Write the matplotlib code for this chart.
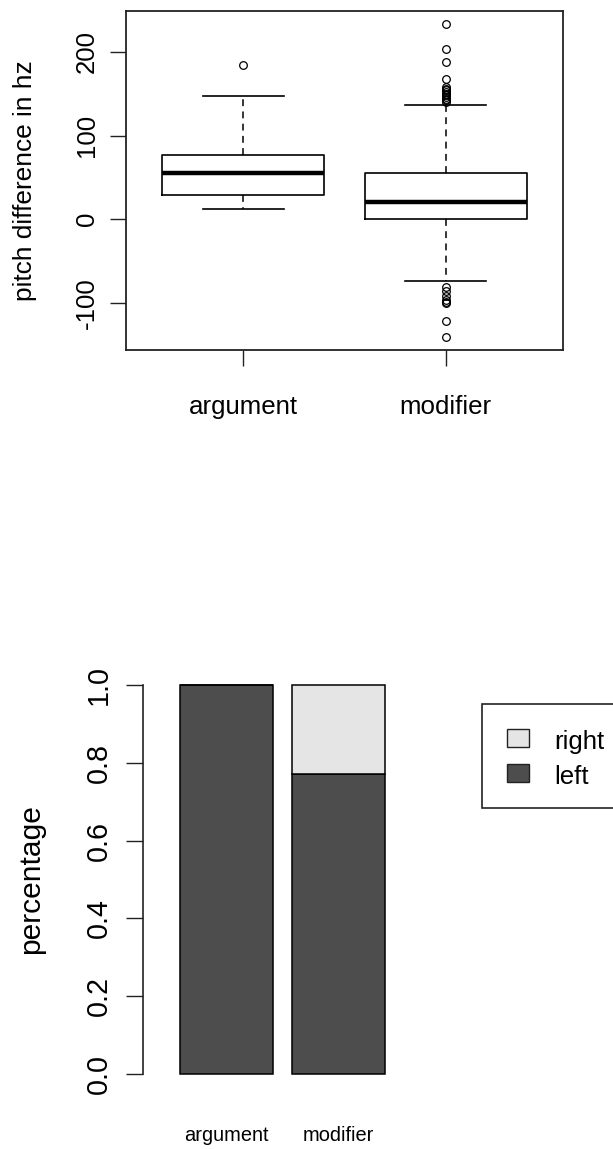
import matplotlib
matplotlib.use("Agg")
import matplotlib.pyplot as plt
from matplotlib.patches import Rectangle

plt.rcParams['font.family'] = ['Liberation Sans', 'DejaVu Sans']

# ---------------- data ----------------
groups = ['argument', 'modifier']
q1 = [29.0, 0.7]
median = [55.0, 21.0]
q3 = [77.0, 55.0]
whisker_low = [12.7, -74.0]
whisker_high = [147.0, 137.0]
outliers_argument = [184.0]
outliers_modifier = [234.0, 204.0, 188.0, 168.0, 158.0, 156.0, 154.0, 152.0,
                     150.0, 148.0, 146.0, 144.0, 142.0, 140.0,
                     -81.0, -86.0, -92.0, -97.0, -99.0, -100.0, -121.5, -141.5]
pitch_ticks = [-100, 0, 100, 200]

side_labels = ['right', 'left']
share_left = [1.0, 0.772]
share_right = [0.0, 0.228]
pct_ticks = [0.0, 0.2, 0.4, 0.6, 0.8, 1.0]

DARK = '#4d4d4d'
LIGHT = '#e5e5e5'

W, H = 613, 1149
fig = plt.figure(figsize=(W / 100, H / 100), dpi=100)


def fx(px):
    return px / W


def fy(py):
    return 1 - py / H


# ---------------- top: boxplot ----------------
ax1 = fig.add_axes([fx(126), fy(350), fx(563) - fx(126), fy(11) - fy(350)])
stats = []
fl = [outliers_argument, outliers_modifier]
for i, g in enumerate(groups):
    stats.append(dict(label=g, q1=q1[i], med=median[i], q3=q3[i],
                      whislo=whisker_low[i], whishi=whisker_high[i],
                      fliers=fl[i]))
ax1.bxp(stats, positions=[1, 2], widths=0.8, capwidths=0.4,
        boxprops=dict(color='black', linewidth=1.2),
        medianprops=dict(color='black', linewidth=3.2, solid_capstyle='butt'),
        whiskerprops=dict(color='black', linewidth=1.1, linestyle=(0, (4.5, 3.5))),
        capprops=dict(color='black', linewidth=1.2),
        flierprops=dict(marker='o', markerfacecolor='none', markeredgecolor='black',
                        markersize=5.5, markeredgewidth=0.9, linestyle='none'))
ax1.set_xlim(0.42, 2.58)
ax1.set_ylim(-156.5, 249)
ax1.set_yticks(pitch_ticks)
ax1.set_yticklabels([str(t) for t in pitch_ticks])
ax1.set_xticks([1, 2])
ax1.set_xticklabels(groups)
for sp in ax1.spines.values():
    sp.set_linewidth(1.3)
    sp.set_color('#222222')
ax1.tick_params(axis='both', direction='out', length=11.5, width=1.0, color='#222222')
ax1.tick_params(axis='x', labelsize=18.6, pad=21)
ax1.tick_params(axis='y', labelsize=18.6, pad=8, labelrotation=90)
for lbl in ax1.get_yticklabels():
    lbl.set_va('center')
    lbl.set_ha('right')
ax1.set_ylabel('pitch difference in hz', fontsize=18.9)
ax1.yaxis.label.set_va('center')
ax1.yaxis.set_label_coords((25 - 126) / 437, 0.5)

# ---------------- bottom: stacked bars ----------------
ax2 = fig.add_axes([fx(143.3), fy(1089.6), fx(402.8) - fx(143.3), fy(669.4) - fy(1089.6)])
xpos = [0.7, 1.9]
ax2.bar(xpos, share_left, width=1.0, color=DARK, edgecolor='black', linewidth=1.1,
        label=side_labels[1])
ax2.bar(xpos, share_right, width=1.0, bottom=share_left, color=LIGHT,
        edgecolor='black', linewidth=1.1, label=side_labels[0])
ax2.set_xlim(-0.195, 2.595)
ax2.set_ylim(-0.04, 1.04)
for k in ['top', 'right', 'bottom']:
    ax2.spines[k].set_visible(False)
ax2.spines['left'].set_bounds(0, 1)
ax2.spines['left'].set_linewidth(1.2)
ax2.spines['left'].set_color('#222222')
ax2.set_yticks(pct_ticks)
ax2.set_yticklabels([f'{t:.1f}' for t in pct_ticks])
ax2.tick_params(axis='y', direction='out', length=12, width=1.0, color='#222222',
                labelsize=20.7, pad=10, labelrotation=90)
for lbl in ax2.get_yticklabels():
    lbl.set_va('center')
    lbl.set_ha('right')
ax2.set_xticks(xpos)
ax2.set_xticklabels(groups)
ax2.tick_params(axis='x', length=0, labelsize=14.4, pad=26)
ax2.set_ylabel('percentage', fontsize=21.6)
ax2.yaxis.label.set_va('center')
ax2.yaxis.set_label_coords((31 - 143.3) / 259.5, 0.5)

# ---------------- legend (drawn manually, R style) ----------------
fig.add_artist(Rectangle((fx(481.7), fy(808.3)), fx(700) - fx(481.7), fy(704.3) - fy(808.3),
                         transform=fig.transFigure, facecolor='white', edgecolor='#222222',
                         linewidth=1.2))
leg_colors = [LIGHT, DARK]
leg_rows = [(729.3, 747.3, 749), (764.0, 781.7, 784)]
for (top, bot, base), lab, col in zip(leg_rows, side_labels, leg_colors):
    fig.add_artist(Rectangle((fx(507), fy(bot)), fx(529) - fx(507), fy(top) - fy(bot),
                             transform=fig.transFigure, facecolor=col,
                             edgecolor='#222222', linewidth=1.0))
    fig.text(fx(554), fy(base), lab, fontsize=18.6, ha='left', va='baseline')

fig.savefig('out.png', dpi=100)
